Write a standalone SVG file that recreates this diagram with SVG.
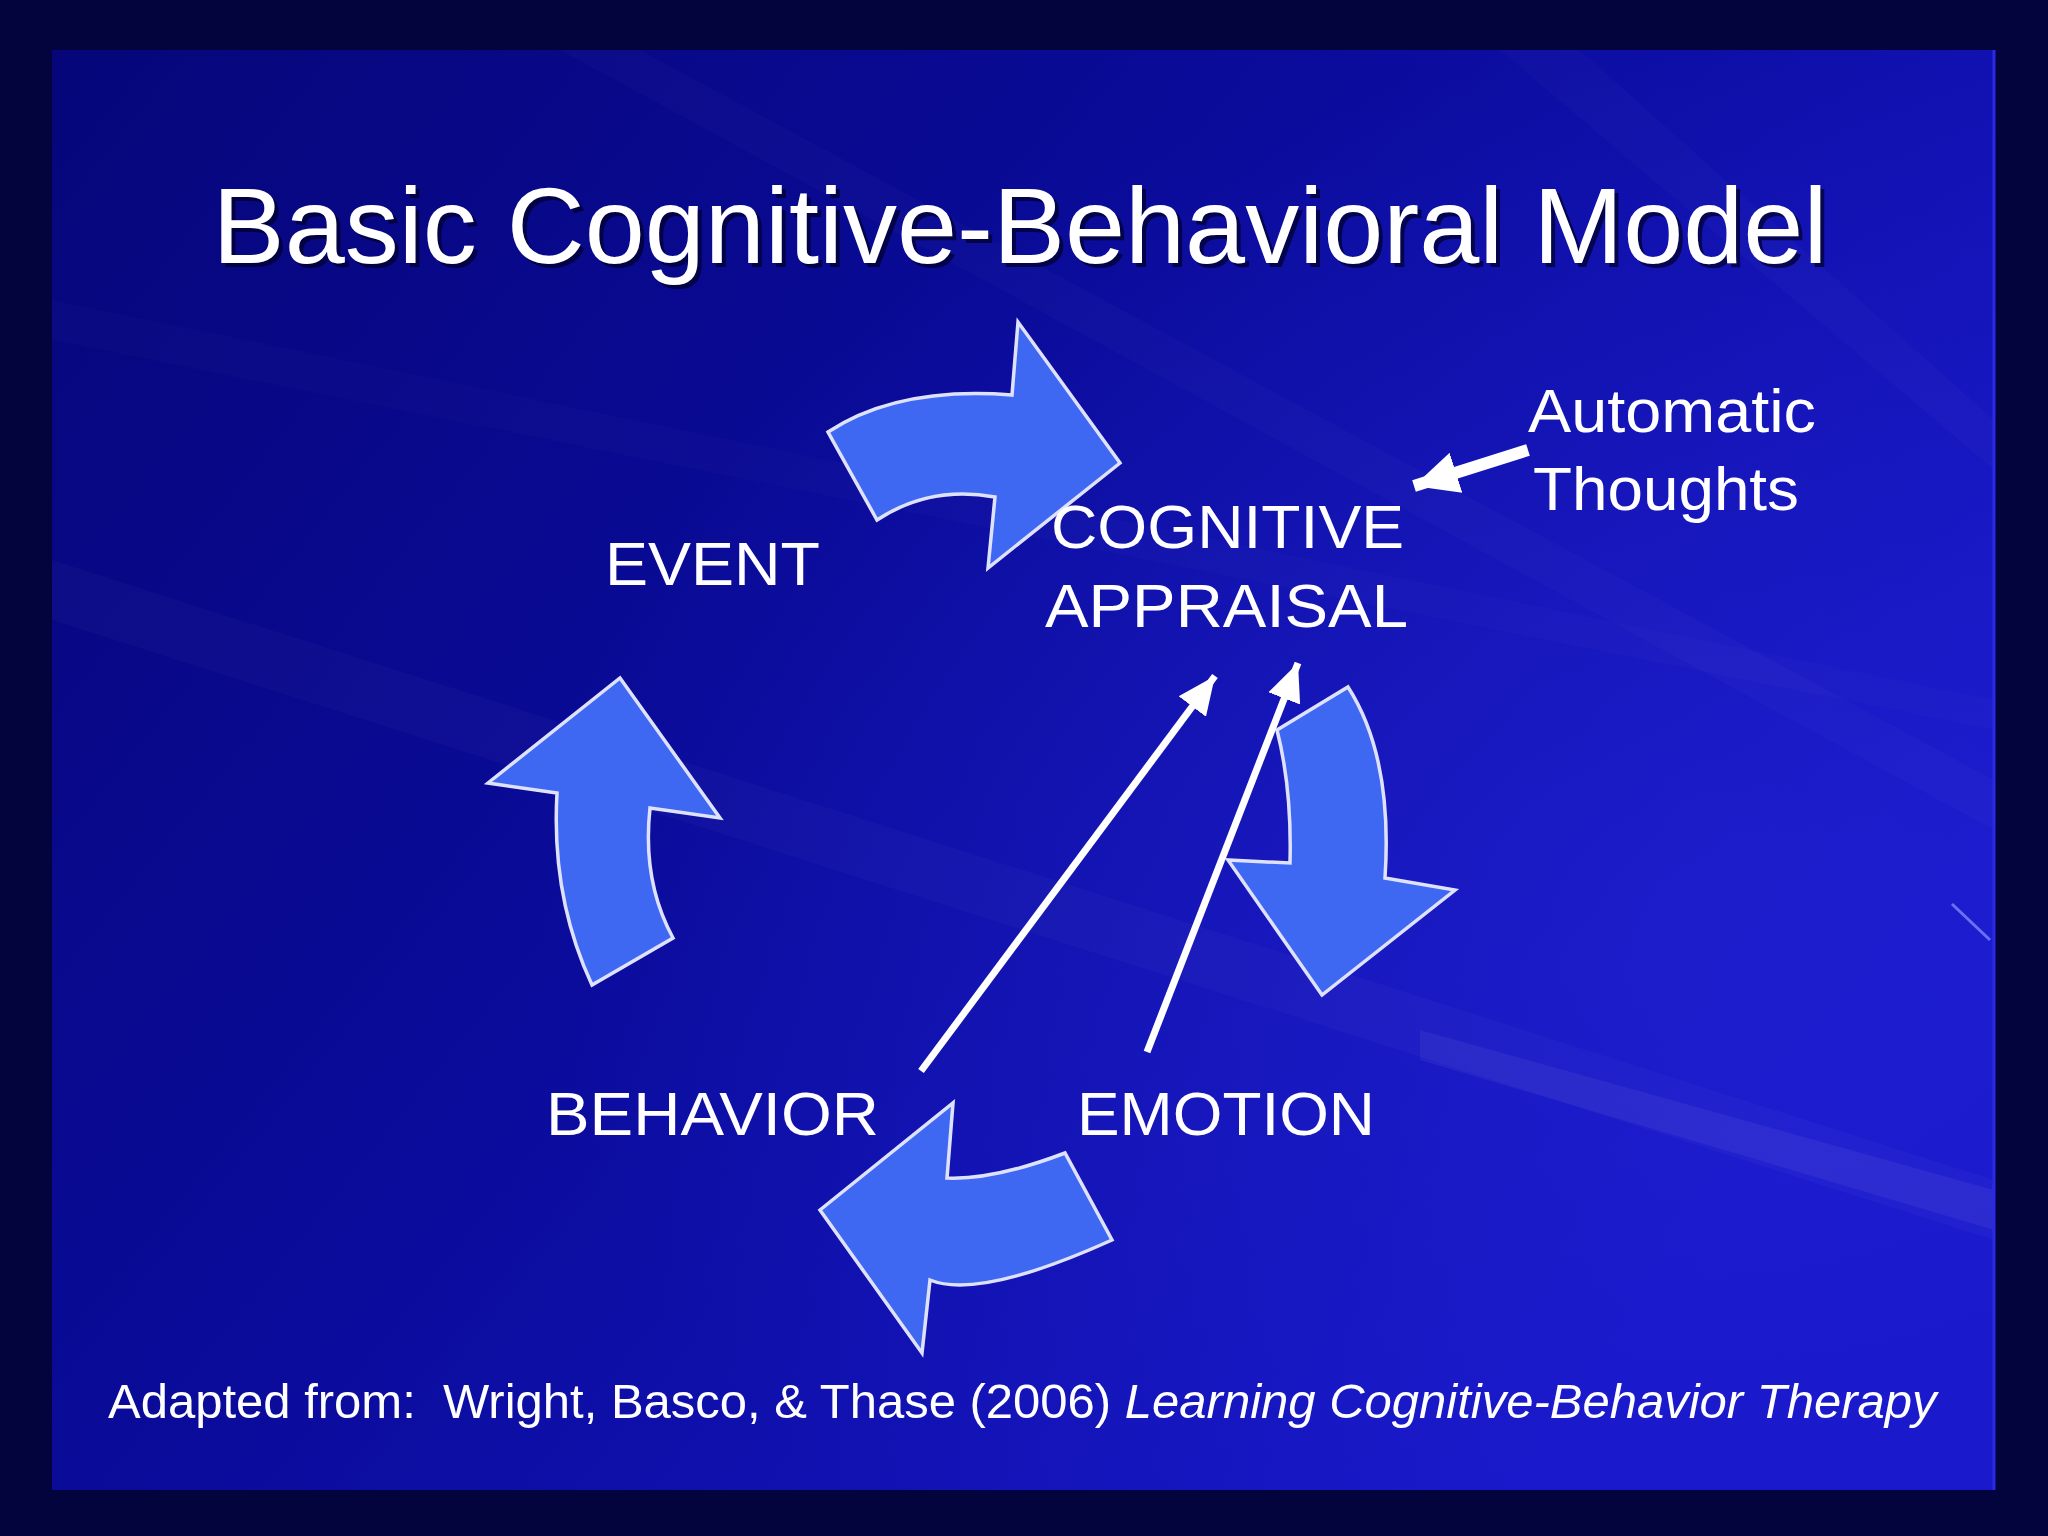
<svg xmlns="http://www.w3.org/2000/svg" width="2048" height="1536" viewBox="0 0 2048 1536">
  <defs>
    <linearGradient id="slideBg" x1="0" y1="0" x2="1" y2="0.6">
      <stop offset="0" stop-color="#06067a"/>
      <stop offset="0.45" stop-color="#0a0b98"/>
      <stop offset="1" stop-color="#1717c8"/>
    </linearGradient>
    <radialGradient id="glow" cx="0.85" cy="0.6" r="0.6">
      <stop offset="0" stop-color="#2a2ae0" stop-opacity="0.4"/>
      <stop offset="1" stop-color="#2a2ae0" stop-opacity="0"/>
    </radialGradient>
    <marker id="wh" markerUnits="userSpaceOnUse" markerWidth="40" markerHeight="40" viewBox="0 0 40 40" refX="38" refY="20" orient="auto">
      <path d="M0,3 L38,20 L0,37 Z" fill="#ffffff"/>
    </marker>
    <marker id="whBig" markerUnits="userSpaceOnUse" markerWidth="46" markerHeight="46" viewBox="0 0 46 46" refX="44" refY="23" orient="auto">
      <path d="M0,2 L44,23 L0,44 Z" fill="#ffffff"/>
    </marker>
    <style>
      .lbl { font-family: "Liberation Sans", Arial, sans-serif; font-size: 61px; fill: #ffffff; }
      .title { font-family: "Liberation Sans", Arial, sans-serif; font-size: 108px; text-anchor: middle; }
      .foot { font-family: "Liberation Sans", Arial, sans-serif; font-size: 49px; fill: #ffffff; }
      .block { fill: #3f68f2; stroke: #dfe2ff; stroke-width: 3.5; stroke-linejoin: miter; }
      .wline { stroke: #ffffff; stroke-width: 7; fill: none; }
      .streak { fill: #ffffff; }
    </style>
  </defs>

  <!-- page background -->
  <rect x="0" y="0" width="2048" height="1536" fill="#03033e"/>

  <!-- slide -->
  <g id="slide">
    <rect x="52" y="50" width="1942" height="1440" fill="url(#slideBg)"/>
    <rect x="52" y="50" width="1942" height="1440" fill="url(#glow)"/>
    <polygon class="streak" opacity="0.025" points="52,560 1994,1180 1994,1240 52,620"/>
    <polygon class="streak" opacity="0.05" points="1420,1030 1994,1190 1994,1230 1420,1060"/>
    <polygon class="streak" opacity="0.02" points="560,50 640,50 1994,780 1994,830"/>
    <polygon class="streak" opacity="0.02" points="1500,50 1580,50 1994,420 1994,470"/>
    <polygon class="streak" opacity="0.015" points="52,300 1994,700 1994,730 52,340"/>
    <line x1="1952" y1="904" x2="1990" y2="940" stroke="#7f86ff" stroke-width="3" opacity="0.8"/>
    <line x1="1994" y1="50" x2="1994" y2="1490" stroke="#2a2ae6" stroke-width="3"/>
  </g>

  <!-- title -->
  <g id="title">
    <text class="title" x="1024" y="267" fill="#000028" opacity="0.7">Basic Cognitive-Behavioral Model</text>
    <text class="title" x="1020" y="263" fill="#ffffff">Basic Cognitive-Behavioral Model</text>
  </g>

  <!-- connectors -->
  <g id="connectors">
    <path id="arrow-event-cognitive" class="block" d="M828,432 Q898,386 1012,395 L1018,322 L1120,463 L988,568 L995,497 Q930,485 877,520 Z"/>
    <path id="arrow-cognitive-emotion" class="block" d="M1277,730 L1348,687 Q1393,757 1385,878 L1455,890 L1322,995 L1228,860 L1290,863 Q1292,789 1277,730 Z"/>
    <path id="arrow-emotion-behavior" class="block" d="M953,1103 L947,1178 Q994,1180 1065,1153 L1112,1240 Q979,1300 930,1280 L922,1353 L820,1210 Z"/>
    <path id="arrow-behavior-event" class="block" d="M620,678 L720,818 L650,808 Q642,881 673,938 L592,985 Q551,897 557,793 L488,783 Z"/>
    <line id="arrow-behavior-cognitive" class="wline" x1="921" y1="1071" x2="1215" y2="676" marker-end="url(#wh)"/>
    <line id="arrow-emotion-cognitive" class="wline" x1="1147" y1="1052" x2="1298" y2="663" marker-end="url(#wh)"/>
    <line id="arrow-thoughts-cognitive" stroke="#ffffff" stroke-width="12" x1="1528" y1="450" x2="1414" y2="486" marker-end="url(#whBig)"/>
  </g>

  <!-- nodes -->
  <g id="node-event">
    <text class="lbl" x="605" y="585" textLength="215" lengthAdjust="spacingAndGlyphs">EVENT</text>
  </g>
  <g id="node-cognitive-appraisal">
    <text class="lbl" x="1051" y="548" textLength="353" lengthAdjust="spacingAndGlyphs">COGNITIVE</text>
    <text class="lbl" x="1045" y="627" textLength="363" lengthAdjust="spacingAndGlyphs">APPRAISAL</text>
  </g>
  <g id="node-emotion">
    <text class="lbl" x="1077" y="1135" textLength="298" lengthAdjust="spacingAndGlyphs">EMOTION</text>
  </g>
  <g id="node-behavior">
    <text class="lbl" x="546" y="1135" textLength="333" lengthAdjust="spacingAndGlyphs">BEHAVIOR</text>
  </g>
  <g id="node-automatic-thoughts">
    <text class="lbl" x="1528" y="432" textLength="288" lengthAdjust="spacingAndGlyphs">Automatic</text>
    <text class="lbl" x="1533" y="510" textLength="266" lengthAdjust="spacingAndGlyphs">Thoughts</text>
  </g>

  <!-- footer -->
  <g id="footer">
    <text class="foot" x="108" y="1418" xml:space="preserve">Adapted from:  Wright, Basco, &amp; Thase (2006) <tspan font-style="italic">Learning Cognitive-Behavior Therapy</tspan></text>
  </g>
</svg>
